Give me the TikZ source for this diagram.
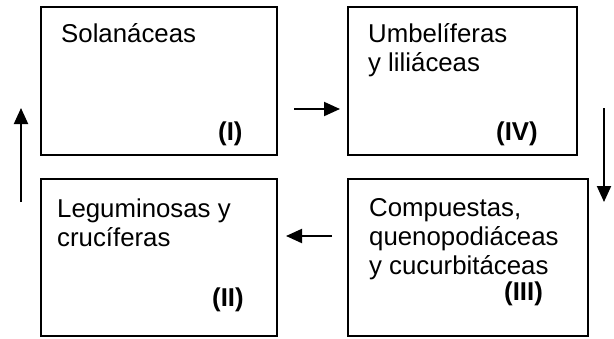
\documentclass[tikz,border=0pt]{standalone}
\usepackage{fontspec}
\setmainfont{Liberation Sans}
\usetikzlibrary{arrows.meta}
\tikzset{
  box/.style={draw=black, line width=1.3pt, rectangle, inner sep=0pt, outer sep=0pt, fill=none},
  txt/.style={inner sep=0pt, anchor=base west, align=left, font=\fontsize{25.8}{29}\selectfont},
  lbl/.style={inner sep=0pt, anchor=base west, font=\fontsize{25.8}{29}\selectfont\bfseries},
  flow/.style={line width=2pt, -{Triangle[length=16pt,width=14pt]}}
}
\begin{document}
\begin{tikzpicture}[x=1pt,y=-1pt]
\useasboundingbox (0,0) rectangle (614,338);
\node[box, minimum width=236pt, minimum height=148pt] (b1) at (159,81) {};
\node[box, minimum width=229pt, minimum height=148pt] (b4) at (462.5,81) {};
\node[box, minimum width=236pt, minimum height=157pt] (b2) at (159,257.5) {};
\node[box, minimum width=240pt, minimum height=157pt] (b3) at (468,257.5) {};
\node[txt] (t1) at (61,42) {Solanáceas};
\node[txt] (t4) at (368,71) {Umbelíferas\\y liliáceas};
\node[txt] (t2) at (57,246) {Leguminosas y\\crucíferas};
\node[txt] (t3) at (369,274) {Compuestas,\\quenopodiáceas\\y cucurbitáceas};
\node[lbl] (l1) at (218,140) {(I)};
\node[lbl] (l4) at (496,140) {(IV)};
\node[lbl] (l2) at (212,306) {(II)};
\node[lbl] (l3) at (504,300) {(III)};
\coordinate (uA) at (21,202);
\coordinate (uB) at (21,108);
\coordinate (rA) at (294,109);
\coordinate (rB) at (340,109);
\coordinate (dA) at (604,108);
\coordinate (dB) at (604,202);
\coordinate (lA) at (332,236);
\coordinate (lB) at (286,236);
\draw[flow] (uA) -- (uB);
\draw[flow] (rA) -- (rB);
\draw[flow] (dA) -- (dB);
\draw[flow] (lA) -- (lB);
\end{tikzpicture}
\end{document}
